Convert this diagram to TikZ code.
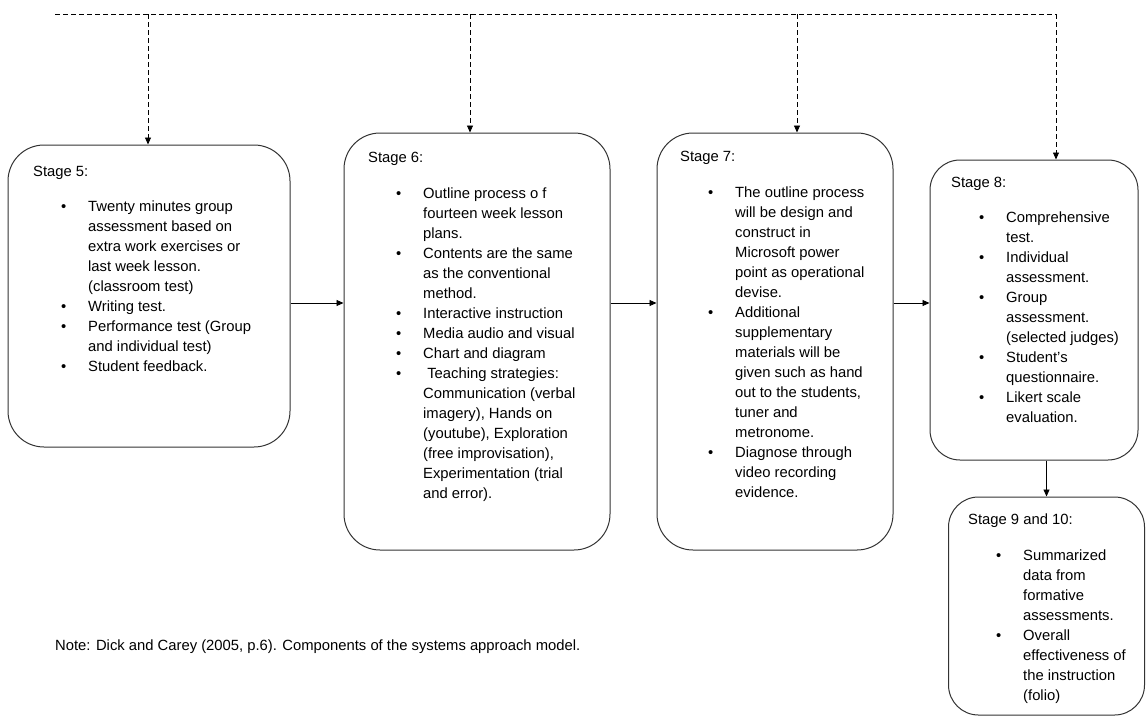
\documentclass[tikz,border=0pt]{standalone}
\usepackage{fontspec}
\setmainfont{Liberation Sans}
\usetikzlibrary{arrows.meta, positioning, calc}

\newcommand{\itm}{\hspace*{28pt}\makebox[27pt][l]{\textbullet}}
\newcommand{\cnt}{\hspace*{55pt}}

\begin{document}
\begin{tikzpicture}[
    x=1pt, y=-1pt,
    stagebox/.style={draw=black!80, line width=1pt, rounded corners=36pt, inner sep=0pt},
    stagetext/.style={anchor=north west, align=left, inner sep=0pt,
        font=\fontsize{14.8}{20}\selectfont},
    >={Triangle[length=7pt, width=6pt]},
    fb/.style={->, dash pattern=on 5pt off 3pt, line width=0.9pt}
]
\useasboundingbox (0,0) rectangle (1147,718);

\node (s5) at (149, 296)    [stagebox, minimum width=282pt, minimum height=302pt] {};
\node (s6) at (477, 341.5)  [stagebox, minimum width=266pt, minimum height=417pt] {};
\node (s7) at (775, 341.5)  [stagebox, minimum width=236pt, minimum height=417pt] {};
\node (s8) at (1034, 310)   [stagebox, minimum width=208pt, minimum height=300pt, rounded corners=30pt] {};
\node (s9) at (1046.5, 606) [stagebox, minimum width=196pt, minimum height=218pt, rounded corners=30pt] {};

\node (t5) at (33, 166)  [stagetext] {Stage 5:\\[15pt]
  \itm Twenty minutes group\\ \cnt assessment based on\\ \cnt extra work exercises or\\
  \cnt last week lesson.\\ \cnt (classroom test)\\ \itm Writing test.\\
  \itm Performance test (Group\\ \cnt and individual test)\\ \itm Student feedback.};
\node (t6) at (368, 152) [stagetext] {Stage 6:\\[16pt]
  \itm Outline process o f\\ \cnt fourteen week lesson\\ \cnt plans.\\
  \itm Contents are the same\\ \cnt as the conventional\\ \cnt method.\\
  \itm Interactive instruction\\ \itm Media audio and visual\\ \itm Chart and diagram\\
  \itm \ Teaching strategies:\\ \cnt Communication (verbal\\ \cnt imagery), Hands on\\
  \cnt (youtube), Exploration\\ \cnt (free improvisation),\\ \cnt Experimentation (trial\\
  \cnt and error).};
\node (t7) at (680, 151) [stagetext] {Stage 7:\\[16pt]
  \itm The outline process\\ \cnt will be design and\\ \cnt construct in\\
  \cnt Microsoft power\\ \cnt point as operational\\ \cnt devise.\\
  \itm Additional\\ \cnt supplementary\\ \cnt materials will be\\ \cnt given such as hand\\
  \cnt out to the students,\\ \cnt tuner and\\ \cnt metronome.\\
  \itm Diagnose through\\ \cnt video recording\\ \cnt evidence.};
\node (t8) at (951, 177) [stagetext] {Stage 8:\\[15pt]
  \itm Comprehensive\\ \cnt test.\\ \itm Individual\\ \cnt assessment.\\
  \itm Group\\ \cnt assessment.\\ \cnt (selected judges)\\
  \itm Student's\\ \cnt questionnaire.\\ \itm Likert scale\\ \cnt evaluation.};
\node (t9) at (968, 514) [stagetext] {Stage 9 and 10:\\[16pt]
  \itm Summarized\\ \cnt data from\\ \cnt formative\\ \cnt assessments.\\
  \itm Overall\\ \cnt effectiveness of\\ \cnt the instruction\\ \cnt (folio)};

\node (note) at (55, 647) [anchor=west, inner sep=0pt, font=\fontsize{14.8}{17}\selectfont]
  {Note: Dick and Carey (2005, p.6). Components of the systems approach model.};

% feedback line along the top
\coordinate (d0) at (55, 14);
\coordinate (d5) at (148, 14);
\coordinate (d6) at (470, 14);
\coordinate (d7) at (797, 14);
\coordinate (d8) at (1056, 14);
\draw[dash pattern=on 5pt off 3pt, line width=0.9pt] (d0) -- (d8);
\draw[fb] (d5) -- (d5 |- s5.north);
\draw[fb] (d6) -- (d6 |- s6.north);
\draw[fb] (d7) -- (d7 |- s7.north);
\draw[fb] (d8) -- (d8 |- s8.north);

% stage to stage
\coordinate (mid) at (0, 303);
\draw[->, line width=0.9pt] (s5.east |- mid) -- (s6.west |- mid);
\draw[->, line width=0.9pt] (s6.east |- mid) -- (s7.west |- mid);
\draw[->, line width=0.9pt] (s7.east |- mid) -- (s8.west |- mid);
\draw[->, line width=0.9pt] (s9.north |- s8.south) -- (s9.north);
\end{tikzpicture}
\end{document}
